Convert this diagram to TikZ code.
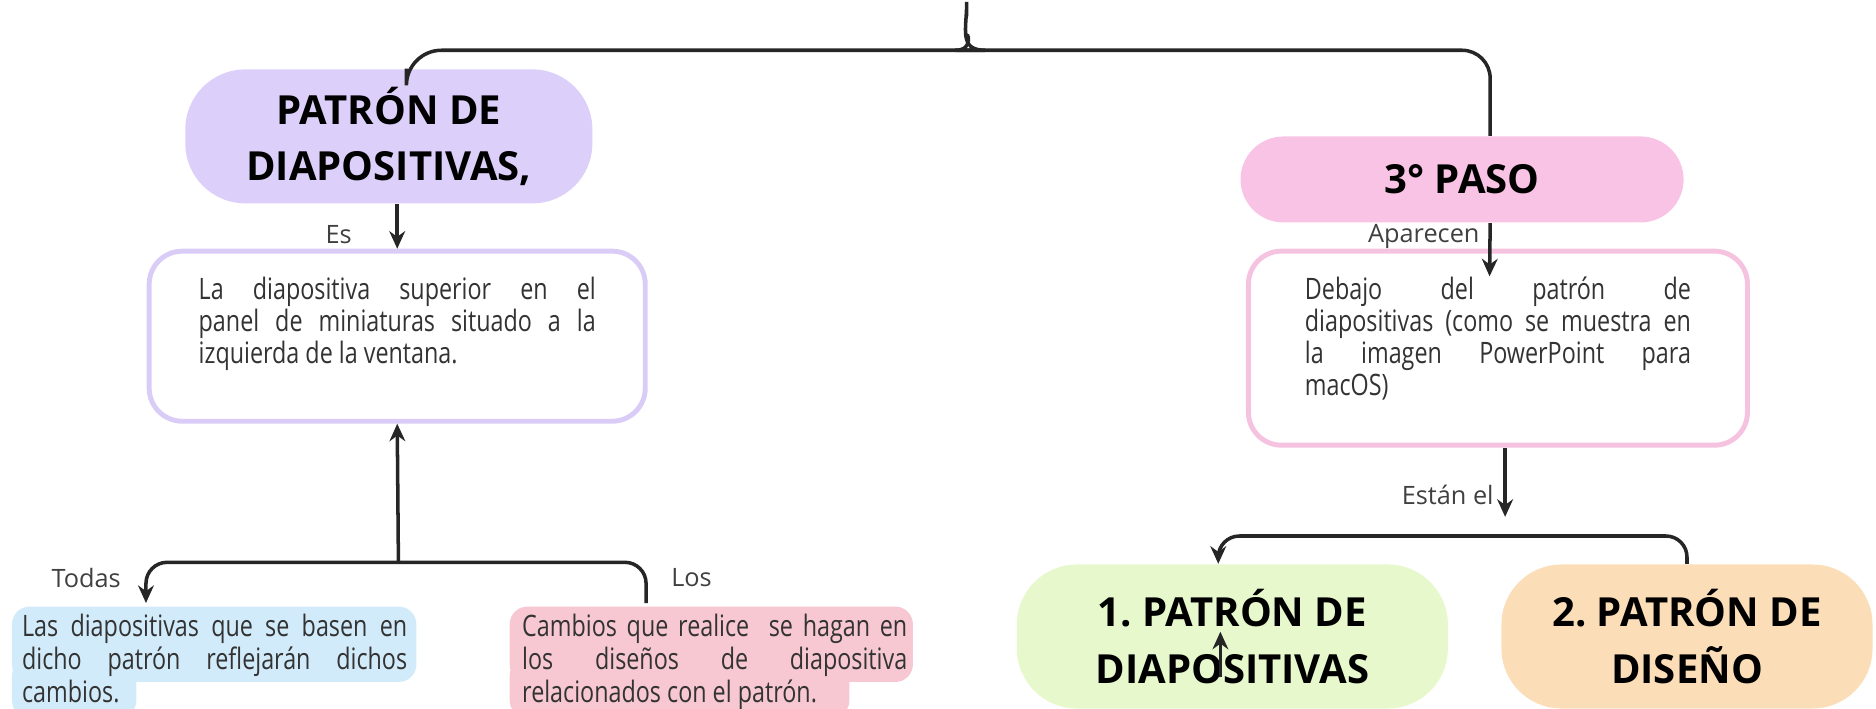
\documentclass[tikz,border=0pt]{standalone}
\usepackage{fontspec}
\setmainfont{Open Sans}
\newfontfamily\slimfont{Open Sans}[FakeStretch=0.79]
\usetikzlibrary{arrows.meta}
\definecolor{lila}{HTML}{DCCFFA}
\definecolor{lilaline}{HTML}{D9CCF7}
\definecolor{rosapaso}{HTML}{F8C3E4}
\definecolor{rosaline}{HTML}{F5C2DF}
\definecolor{celeste}{HTML}{D2EBFA}
\definecolor{rosa}{HTML}{F7C8D2}
\definecolor{verde}{HTML}{E6F8CC}
\definecolor{melon}{HTML}{FBDDB8}
\hyphenpenalty=10000
\exhyphenpenalty=10000
\tolerance=9999
\frenchspacing
\begin{document}
\begin{tikzpicture}[x=0.01196cm, y=-0.01196cm,
   conn/.style={draw=black!85, line width=1pt},
   arr/.style={conn, -{Stealth[length=5pt,width=4.5pt]}},
   pill/.style={rounded corners=0.6cm, align=center, inner sep=0pt,
      font=\fontsize{11.4}{16}\selectfont\bfseries},
   card/.style={draw, line width=1.4pt, fill=white, rounded corners=0.33cm,
      align=justify, text=black!80, font=\slimfont\fontsize{8.4}{9.1}\selectfont},
   note/.style={anchor=north west, align=justify, inner sep=2pt, text width=3.85cm,
      text=black!80, font=\slimfont\fontsize{8.4}{9.4}\selectfont},
   lab/.style={font=\fontsize{7.2}{9}\selectfont, text=black!75}]
   \useasboundingbox (0,0) rectangle (1568,592);

   % left side
   \node[pill, fill=lila, minimum width=4.07cm, minimum height=1.34cm] (pd) at (325,114) {PATRÓN DE\\DIAPOSITIVAS,};
   \node[card, draw=lilaline, minimum width=4.96cm, minimum height=1.70cm, text width=3.97cm, text depth=27pt] (def1) at (332,281)
      {La diapositiva superior en el\linebreak panel de miniaturas situado a la\linebreak izquierda de la ventana.};
   \fill[celeste, rounded corners=5pt] (10,507) rectangle (348,570);
   \fill[celeste, rounded corners=5pt] (10,550) rectangle (114,600);
   \node[note] (cel) at (12,507) {Las diapositivas que se basen en\linebreak dicho patrón reflejarán dichos\linebreak cambios.};
   \fill[rosa, rounded corners=5pt] (426,507) rectangle (763,570);
   \fill[rosa, rounded corners=5pt] (426,550) rectangle (710,600);
   \node[note] (ros) at (430,507) {Cambios que realice\ \ se hagan en\linebreak los diseños de diapositiva\linebreak relacionados con el patrón.};

   % right side
   \node[pill, fill=rosapaso, minimum width=4.43cm, minimum height=0.86cm, rounded corners=0.43cm] (paso) at (1222,150) {3° PASO};
   \node[card, draw=rosaline, minimum width=4.99cm, minimum height=1.94cm, text width=3.86cm, text depth=34pt] (def2) at (1252,291)
      {Debajo del patrón de\linebreak diapositivas (como se muestra en\linebreak la imagen PowerPoint para\linebreak macOS)};
   \node[pill, fill=verde, minimum width=4.31cm, minimum height=1.44cm] (verdeP) at (1030,532) {1. PATRÓN DE\\DIAPOSITIVAS};
   \node[pill, fill=melon, minimum width=3.71cm, minimum height=1.44cm] (melonP) at (1410,532) {2. PATRÓN DE\\DISEÑO};

   % top brace
   \coordinate (top) at (808,10);
   \coordinate (tip) at (808,31);
   \draw[conn, rounded corners=10pt] ([xshift=5pt]pd.north) |- (794,42) to[out=0,in=90] (tip) -- (top);
   \draw[conn, rounded corners=8pt] (tip) to[out=90,in=180] (822,42) -| ([xshift=8pt]paso.north);

   % left connectors
   \draw[arr] (pd.south -| def1.north) -- (def1.north);
   \node[lab] (les) at (283,196) {Es};
   \coordinate (split1) at (333,470);
   \coordinate (todas) at (122,504);
   \coordinate (los) at (540,504);
   \draw[arr] (split1) -- (def1.south);
   \draw[arr, rounded corners=6pt] (los) |- (split1) -| (todas);
   \node[lab] (ltodas) at (72,483) {Todas};
   \node[lab] (llos) at (578,483) {Los};

   % right connectors
   \coordinate (apEnd) at (1245,231);
   \coordinate (estEnd) at (1258,432);
   \coordinate (split2) at (1258,448);
   \draw[arr] ([xshift=8pt]paso.south) -- (apEnd);
   \node[lab] (lapa) at (1190,198) {Aparecen};
   \draw[arr] (def2.south -| estEnd) -- (estEnd);
   \node[lab] (lest) at (1210,414) {Están el};
   \draw[arr, rounded corners=6pt] (melonP.north) |- (split2) -| ([xshift=-4pt]verdeP.north);
   \coordinate (s1) at (1020,566);
   \coordinate (s2) at (1020,528);
   \draw[arr] (s1) -- (s2);
\end{tikzpicture}
\end{document}
